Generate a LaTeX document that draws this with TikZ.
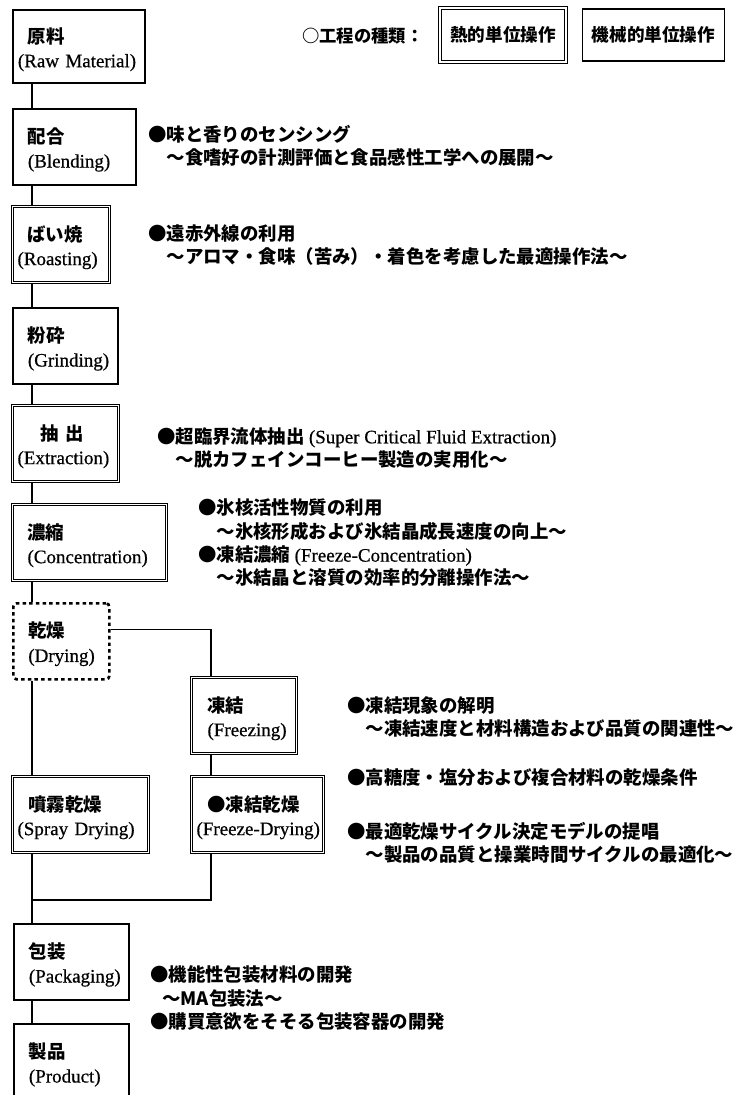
\documentclass[tikz,border=0pt]{standalone}
\usepackage{fontspec}
\setmainfont{Liberation Serif}[FakeBold=0.6]
\newfontfamily\jp[Scale=0.97]{Noto Sans CJK JP}
\usetikzlibrary{positioning}
\newcommand{\ja}[1]{{\jp\bfseries #1}}
\newcommand{\ind}{\hspace*{7.5pt}}

\tikzset{
  mbox/.style={draw, line width=1.35pt, anchor=north west, minimum height=57pt,
    inner xsep=3.75pt, inner ysep=0pt, align=left,
    execute at begin node={\rule{0pt}{16pt}},
    font=\fontsize{14.25}{18}\selectfont},
  tbox/.style={mbox, double, line width=0.75pt, double distance=1.4pt},
  dbox/.style={mbox, line width=2pt, dash pattern=on 2.6pt off 2.4pt, rounded corners=2.5pt},
  keybox/.style={draw, line width=1.35pt, minimum height=39pt, inner sep=0pt,
    font=\jp\bfseries\fontsize{13.6}{16}\selectfont},
  note/.style={anchor=west, align=left, inner sep=0pt,
    font=\jp\bfseries\fontsize{14.25}{17.5}\selectfont},
  link/.style={line width=0.9pt},
}

\begin{document}
\begin{tikzpicture}[x=0.75pt, y=-0.75pt]
    \useasboundingbox (0,0) rectangle (734,1095);
    \clip (0,0) rectangle (734,1095);
    %Legend
    \node[note, font=\jp\bfseries\fontsize{13.4}{16}\selectfont] (kind) at (302,36) {○工程の種類：};
    \node[keybox, double, line width=0.75pt, double distance=1.4pt, minimum width=94.5pt, minimum height=40.5pt] (thermal) at (503,35) {熱的単位操作};
    \node[keybox, minimum width=106.5pt, right=11.25pt of thermal] (mech) {機械的単位操作};
    %Process boxes
    \coordinate (trunk) at (32,0);
    \coordinate (branch) at (211,0);
    \coordinate (merge) at (32,900);
    \node[mbox, text width=91.5pt, minimum height=55pt] (raw) at (12,9) {\ind\ja{原料}\\(Raw Material)};
    \node[mbox, text width=84.75pt] (blend) at (12,108) {\ind\ja{配合}\\\ind(Blending)};
    \node[tbox, text width=65.25pt] (roast) at (12,206) {\ind\ja{ばい焼}\\(Roasting)};
    \node[mbox, text width=71.25pt] (grind) at (12,307) {\ind\ja{粉砕}\\\ind(Grinding)};
    \node[tbox, text width=72pt] (extr) at (12,405) {\hspace*{17pt}\ja{抽\hspace{0.4em}出}\\(Extraction)};
    \node[tbox, text width=108pt] (conc) at (12,504) {\ind\ja{濃縮}\\\ind(Concentration)};
    \node[dbox, text width=64.5pt] (dry) at (12,602) {\ind\ja{乾燥}\\\ind(Drying)};
    \node[tbox, text width=71.25pt] (freeze) at (191,677) {\hspace*{8.25pt}\ja{凍結}\\\hspace*{8.25pt}(Freezing)};
    \node[tbox, text width=94.5pt] (spray) at (12,776) {\hspace*{8.25pt}\ja{噴霧乾燥}\\(Spray Drying)};
    \node[tbox, text width=91.5pt] (fdry) at (191,776) {\hspace*{8.25pt}\ja{●凍結乾燥}\\\mbox{(Freeze-Drying)}};
    \node[mbox, text width=78.75pt] (pack) at (13,923) {\ind\ja{包装}\\\ind(Packaging)};
    \node[mbox, text width=78.75pt] (prod) at (13,1023) {\ind\ja{製品}\\\ind(Product)};
    %Connectors
    \draw[link] (raw.south -| trunk) -- (blend.north -| trunk);
    \draw[link] (blend.south -| trunk) -- (roast.north -| trunk);
    \draw[link] (roast.south -| trunk) -- (grind.north -| trunk);
    \draw[link] (grind.south -| trunk) -- (extr.north -| trunk);
    \draw[link] (extr.south -| trunk) -- (conc.north -| trunk);
    \draw[link] (conc.south -| trunk) -- (dry.north -| trunk);
    \draw[link] (dry.south -| trunk) -- (spray.north -| trunk);
    \draw[link] ([yshift=8.6pt]dry.east) -| (freeze.north -| branch);
    \draw[link] (freeze.south -| branch) -- (fdry.north -| branch);
    \draw[link] (spray.south -| trunk) -- (pack.north -| trunk);
    \draw[link] (fdry.south -| branch) |- (merge);
    \draw[link] (pack.south -| trunk) -- (prod.north -| trunk);
    %Notes
    \node[note] (blendnote) at (148,146) {●味と香りのセンシング\\　～食嗜好の計測評価と食品感性工学への展開～};
    \node[note] (roastnote) at (148,245) {●遠赤外線の利用\\　～アロマ・食味（苦み）・着色を考慮した最適操作法～};
    \node[note] (extrnote) at (157,448) {●超臨界流体抽出 {\rmfamily\mdseries (Super Critical Fluid Extraction)}\\　～脱カフェインコーヒー製造の実用化～};
    \node[note] (concnote) at (198,543) {●氷核活性物質の利用\\　～氷核形成および氷結晶成長速度の向上～\\●凍結濃縮 {\rmfamily\mdseries (Freeze-Concentration)}\\　～氷結晶と溶質の効率的分離操作法～};
    \node[note] (freezenote) at (347,717) {●凍結現象の解明\\　～凍結速度と材料構造および品質の関連性～};
    \node[note] (sugarnote) at (347,778) {●高糖度・塩分および複合材料の乾燥条件};
    \node[note] (cyclenote) at (347,843) {●最適乾燥サイクル決定モデルの提唱\\　～製品の品質と操業時間サイクルの最適化～};
    \node[note] (packnote) at (150,998) {●機能性包装材料の開発\\\hspace*{9pt}～MA包装法～\\●購買意欲をそそる包装容器の開発};
\end{tikzpicture}
\end{document}
